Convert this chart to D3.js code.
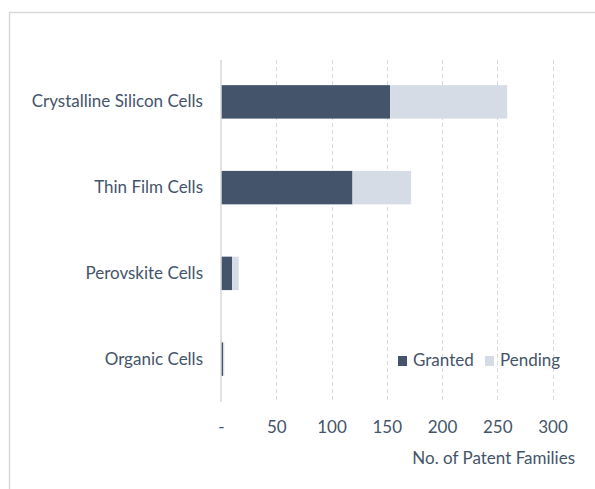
<!DOCTYPE html>
<html>
<head>
<meta charset="utf-8">
<script src="https://cdn.jsdelivr.net/npm/d3@7"></script>
<style>
    body {margin: 0; background: #fff;}
    svg text {font-family: Lato, "Open Sans", sans-serif; fill: #44546a;}
</style>
</head>
<body>
<div id="content"></div>
<script>
const CATEGORIES = ['Crystalline Silicon Cells', 'Thin Film Cells', 'Perovskite Cells', 'Organic Cells'];
const GRANTED = [153, 119, 10, 2];
const PENDING = [106, 53, 6, 1];
const TICKS = [0, 50, 100, 150, 200, 250, 300];
const SERIES = ['Granted', 'Pending'];
const COLOURS = ['#44546a', '#d6dce5'];

var width = 595;
var height = 489;
var fontSize = '17px';

var svg = d3.select('#content')
.append('svg')
.attr('width', width)
.attr('height', height);

// chart frame, runs off the right and bottom edges
svg.append('rect')
.attr('x', 9.5)
.attr('y', 12.5)
.attr('width', 700)
.attr('height', 600)
.attr('fill', 'none')
.attr('stroke', '#d9d9d9')
.attr('stroke-width', 1.5);

var xScale = d3.scaleLinear()
.domain([0, 300])
.range([221, 552.5]);

var yScale = d3.scaleBand()
.domain(CATEGORIES)
.range([59, 402])
.paddingInner(0.61)
.paddingOuter(0.305);

// gridlines
svg.selectAll('.grid')
.data(TICKS.slice(1))
.enter()
.append('line')
.attr('class', 'grid')
.attr('x1', d => Math.round(xScale(d)) + 0.5)
.attr('x2', d => Math.round(xScale(d)) + 0.5)
.attr('y1', 60)
.attr('y2', 402)
.attr('stroke', '#d9d9d9')
.attr('stroke-dasharray', '4,3');

var stacked = d3.stack().keys(SERIES)(
    CATEGORIES.map((c, i) => ({cat: c, Granted: GRANTED[i], Pending: PENDING[i]}))
);

svg.selectAll('.series')
.data(stacked)
.enter()
.append('g')
.attr('class', 'series')
.attr('fill', (s, i) => COLOURS[i])
.selectAll('rect')
.data(s => s)
.enter()
.append('rect')
.attr('x', d => xScale(d[0]))
.attr('y', d => yScale(d.data.cat))
.attr('width', d => xScale(d[1]) - xScale(d[0]))
.attr('height', yScale.bandwidth());

// zero line
svg.append('line')
.attr('x1', 221)
.attr('x2', 221)
.attr('y1', 60)
.attr('y2', 402)
.attr('stroke', '#d9d9d9')
.attr('stroke-width', 1.5);

var xAxis = d3.axisBottom()
.scale(xScale)
.tickValues(TICKS)
.tickSize(0)
.tickPadding(0)
.tickFormat(d => d === 0 ? '-' : d3.format(',')(d));

var gx = svg.append('g')
.attr('class', 'x-axis')
.attr('transform', 'translate(0, 433)')
.call(xAxis);
gx.select('.domain').remove();
gx.selectAll('text')
.attr('dy', 0)
.style('font-size', fontSize);

var yAxis = d3.axisLeft()
.scale(yScale)
.tickSize(0)
.tickPadding(0);

var gy = svg.append('g')
.attr('class', 'y-axis')
.attr('transform', 'translate(203, 0)')
.call(yAxis);
gy.select('.domain').remove();
gy.selectAll('text')
.style('font-size', fontSize);

svg.append('text')
.attr('x', 575)
.attr('y', 464)
.attr('text-anchor', 'end')
.style('font-size', fontSize)
.text('No. of Patent Families');

// legend
var legendX = [398, 485];
var legend = svg.selectAll('.legend')
.data(SERIES)
.enter()
.append('g')
.attr('class', 'legend')
.attr('transform', (d, i) => `translate(${legendX[i]}, 361)`);
legend.append('rect')
.attr('x', 0)
.attr('y', -5)
.attr('width', 9)
.attr('height', 10)
.attr('fill', (d, i) => COLOURS[i]);
legend.append('text')
.attr('x', 15)
.attr('y', 0)
.attr('dy', '0.32em')
.style('font-size', fontSize)
.text(d => d);
</script>
</body>
</html>
